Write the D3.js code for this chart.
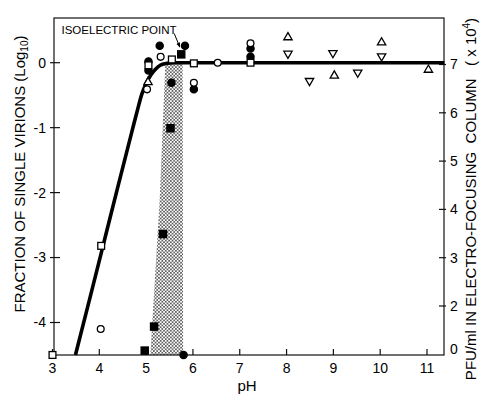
<!DOCTYPE html>
<html>
<head>
<meta charset="utf-8">
<script src="https://cdn.jsdelivr.net/npm/d3@7/dist/d3.min.js"></script>
<style>
  html, body { margin: 0; padding: 0; background: #fff; }
  svg { display: block; font-family: "Liberation Sans", Arial, sans-serif; }
</style>
</head>
<body>
<div id="chart"></div>
<script>
// ticks
const xTicks = [3, 4, 5, 6, 7, 8, 9, 10, 11];
const yTicks = [0, -1, -2, -3, -4];
const y2Ticks = [0, 2, 3, 4, 5, 6, 7];

// fitted curve (pH, log10 fraction)
const curvePH = [3.49, 3.8, 4.1, 4.4, 4.7, 4.8, 4.91, 5.0, 5.1, 5.2, 5.3, 5.45, 5.6, 11.37];
const curveLog = [-4.5, -3.62, -2.76, -1.9, -1.05, -0.77, -0.48, -0.32, -0.19, -0.1, -0.04, -0.01, 0, 0];

// stippled band (isoelectric region)
const bandPH = [5.09, 5.29, 5.40, 5.41, 5.78, 5.79];
const bandLog = [-4.5, -2.1, -0.2, 0, 0, -4.5];

// markers on left axis: [pH, log10]
const filledCircles = [[5.05, 0.02], [5.05, -0.12], [5.29, 0.26], [5.54, -0.31], [5.83, 0.26], [6.02, -0.41], [7.23, 0.22], [7.23, 0.09], [5.8, -4.5]];
const openCircles = [[4.03, -4.1], [5.02, -0.41], [5.31, 0.09], [6.02, -0.31], [6.53, 0], [7.23, 0.30]];
const openSquares = [[3.0, -4.5], [4.04, -2.82], [5.05, -0.04], [5.55, 0.05], [6.02, -0.01], [7.23, 0.0]];
const upTriangles = [[5.04, -0.30], [8.03, 0.39], [9.02, -0.20], [10.03, 0.31], [11.03, -0.11]];
const downTriangles = [[8.03, 0.14], [8.49, -0.28], [8.99, 0.15], [9.52, -0.15], [10.03, 0.10]];

// PFU in column (right axis, x10^4)
const pfuPH = [4.97, 5.17, 5.36, 5.52, 5.75];
const pfuVal = [0.18, 1.16, 3.49, 5.68, 7.21];

const width = 481, height = 396;
const plotL = 54, plotR = 444, plotT = 18, plotB = 355;

const svg = d3.select('#chart').append('svg')
  .attr('width', width)
  .attr('height', height);

const x = d3.scaleLinear().domain([3, 11]).range([52.5, 427]);
const y = d3.scaleLinear().domain([-4, 0]).range([322.5, 62.7]);
// right axis is broken between 0 and 2
const y2 = d3.scaleLinear().domain([0, 2, 7]).range([plotB, 306, 64.5]);

// stipple pattern
const defs = svg.append('defs');
const pat = defs.append('pattern')
  .attr('id', 'stipple')
  .attr('patternUnits', 'userSpaceOnUse')
  .attr('width', 3.4).attr('height', 3.4);
pat.append('circle').attr('cx', 0.85).attr('cy', 0.85).attr('r', 0.75).attr('fill', '#111');
pat.append('circle').attr('cx', 2.55).attr('cy', 2.55).attr('r', 0.75).attr('fill', '#111');

svg.append('path')
  .datum(d3.zip(bandPH, bandLog))
  .attr('d', d3.line().x(d => x(d[0])).y(d => y(d[1])))
  .attr('fill', 'url(#stipple)');

// frame
svg.append('rect')
  .attr('x', plotL).attr('y', plotT)
  .attr('width', plotR - plotL).attr('height', plotB - plotT)
  .attr('fill', 'none').attr('stroke', '#111').attr('stroke-width', 1.2);

// bottom ticks (inward)
svg.append('g').selectAll('line').data(xTicks).join('line')
  .attr('x1', d => x(d)).attr('x2', d => x(d))
  .attr('y1', plotB).attr('y2', plotB - 6)
  .attr('stroke', '#111').attr('stroke-width', 1.2);
svg.append('g').selectAll('text').data(xTicks).join('text')
  .attr('x', d => x(d)).attr('y', 373)
  .attr('text-anchor', 'middle')
  .attr('font-size', 14)
  .text(d => d);

// left ticks
svg.append('g').selectAll('line').data(yTicks).join('line')
  .attr('x1', plotL - 4).attr('x2', plotL + 6)
  .attr('y1', d => y(d)).attr('y2', d => y(d))
  .attr('stroke', '#111').attr('stroke-width', 1.2);
svg.append('g').selectAll('text').data(yTicks).join('text')
  .attr('x', 46).attr('y', d => y(d))
  .attr('dy', '0.35em')
  .attr('text-anchor', 'end')
  .attr('font-size', 14)
  .text(d => d === 0 ? '0' : '-' + Math.abs(d));

// right ticks
svg.append('g').selectAll('line').data(y2Ticks.filter(d => d > 0)).join('line')
  .attr('x1', plotR - 5).attr('x2', plotR + 2)
  .attr('y1', d => y2(d)).attr('y2', d => y2(d))
  .attr('stroke', '#111').attr('stroke-width', 1.2);
svg.append('g').selectAll('text').data(y2Ticks).join('text')
  .attr('x', 450).attr('y', d => d === 0 ? y2(d) - 6 : y2(d))
  .attr('dy', '0.35em')
  .attr('font-size', 14)
  .text(d => d);

// axis titles
svg.append('text')
  .attr('x', 247).attr('y', 391)
  .attr('text-anchor', 'middle')
  .attr('font-size', 15)
  .text('pH');

const yl = svg.append('text')
  .attr('transform', 'translate(25,174) rotate(-90)')
  .attr('text-anchor', 'middle')
  .attr('font-size', 15)
  .style('white-space', 'pre');
yl.append('tspan').text('FRACTION OF SINGLE VIRIONS (Log');
yl.append('tspan').attr('font-size', 10).attr('dy', 3).text('10');
yl.append('tspan').attr('dy', -3).text(')');

const yr = svg.append('text')
  .attr('transform', 'translate(476,199) rotate(-90)')
  .attr('text-anchor', 'middle')
  .attr('font-size', 15)
  .style('white-space', 'pre');
yr.append('tspan').text('PFU/ml IN ELECTRO-FOCUSING  COLUMN   ( x 10');
yr.append('tspan').attr('font-size', 10).attr('dy', -6).text('4');
yr.append('tspan').attr('dy', 6).text(')');

// fitted curve
svg.append('path')
  .datum(d3.zip(curvePH, curveLog))
  .attr('d', d3.line().x(d => x(d[0])).y(d => y(d[1])).curve(d3.curveMonotoneX))
  .attr('fill', 'none')
  .attr('stroke', '#000')
  .attr('stroke-width', 3.6);

// isoelectric point annotation
svg.append('text')
  .attr('x', 61.5).attr('y', 34)
  .attr('font-size', 11.5)
  .text('ISOELECTRIC POINT');

defs.append('marker')
  .attr('id', 'arrow')
  .attr('viewBox', '0 0 10 10')
  .attr('refX', 9).attr('refY', 5)
  .attr('markerWidth', 5).attr('markerHeight', 5)
  .attr('orient', 'auto')
  .append('path').attr('d', 'M0,1L10,5L0,9Z').attr('fill', '#000');
svg.append('line')
  .attr('x1', x(5.6)).attr('y1', y(0.45))
  .attr('x2', x(5.72)).attr('y2', y(0.24))
  .attr('stroke', '#000').attr('stroke-width', 1)
  .attr('marker-end', 'url(#arrow)');

// markers
const g = svg.append('g').attr('stroke', '#000').attr('stroke-width', 1.3);

g.selectAll('.fc').data(filledCircles).join('circle')
  .attr('class', 'fc')
  .attr('cx', d => x(d[0])).attr('cy', d => y(d[1]))
  .attr('r', 3.6).attr('fill', '#000');

g.selectAll('.oc').data(openCircles).join('circle')
  .attr('class', 'oc')
  .attr('cx', d => x(d[0])).attr('cy', d => y(d[1]))
  .attr('r', 3.4).attr('fill', '#fff');

g.selectAll('.os').data(openSquares).join('rect')
  .attr('class', 'os')
  .attr('x', d => x(d[0]) - 3.4).attr('y', d => y(d[1]) - 3.4)
  .attr('width', 6.8).attr('height', 6.8).attr('fill', '#fff');

const tri = d3.symbol().type(d3.symbolTriangle).size(30);
g.selectAll('.ut').data(upTriangles).join('path')
  .attr('class', 'ut')
  .attr('transform', d => `translate(${x(d[0])},${y(d[1])})`)
  .attr('d', tri).attr('fill', '#fff');
g.selectAll('.dt').data(downTriangles).join('path')
  .attr('class', 'dt')
  .attr('transform', d => `translate(${x(d[0])},${y(d[1])}) rotate(180)`)
  .attr('d', tri).attr('fill', '#fff');

g.selectAll('.fs').data(d3.zip(pfuPH, pfuVal)).join('rect')
  .attr('class', 'fs')
  .attr('x', d => x(d[0]) - 3.6).attr('y', d => y2(d[1]) - 3.6)
  .attr('width', 7.2).attr('height', 7.2).attr('fill', '#000');
</script>
</body>
</html>
